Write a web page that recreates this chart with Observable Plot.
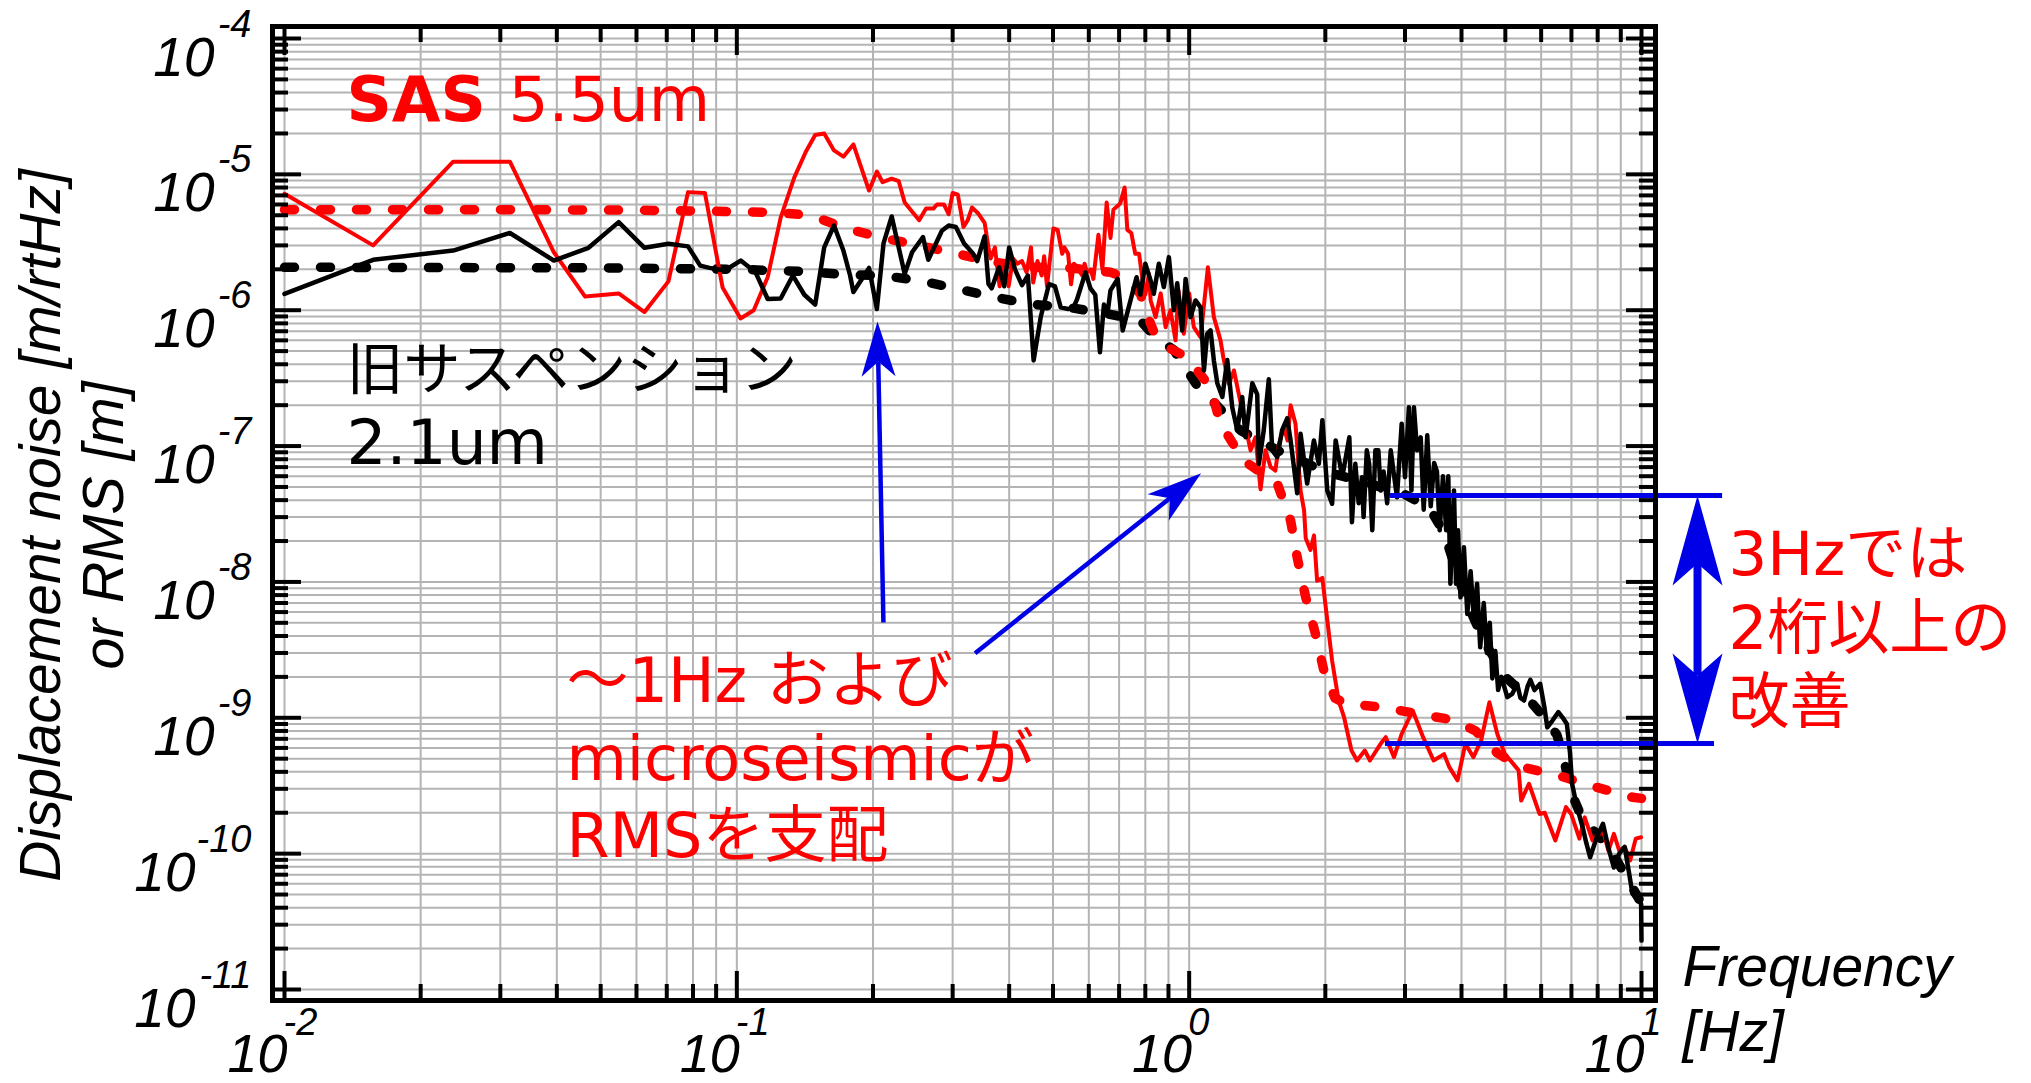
<!DOCTYPE html>
<html>
<head>
<meta charset="utf-8">
<script src="https://cdn.jsdelivr.net/npm/d3@7"></script>
<script src="https://cdn.jsdelivr.net/npm/@observablehq/plot@0.6"></script>
<style>
html, body { margin: 0; padding: 0; background: #fff; }
#chart svg { display: block; overflow: visible; }
</style>
</head>
<body>
<div id="chart"></div>
<script>
// ---------------- data ----------------
// SAS displacement noise ASD [m/rtHz] (red solid)
const sasAsdFreq = [0.0100,0.0157,0.0236,0.0315,0.0394,0.0462,0.0548,0.0625,0.0706,0.0780,0.0850,0.0930,0.1019,0.1090,0.1170,0.1250,0.1340,0.1420,0.1490,0.1560,0.1640,0.1720,0.1810,0.1960,0.2040,0.2100,0.2200,0.2280,0.2350,0.2530,0.2620,0.2720,0.2770,0.2870,0.2940,0.3000,0.3080,0.3170,0.3240,0.3310,0.3410,0.3530,0.3600,0.3640,0.3720,0.3810,0.3900,0.3990,0.4080,0.4170,0.4270,0.4370,0.4470,0.4520,0.4620,0.4720,0.4780,0.4850,0.5010,0.5120,0.5240,0.5300,0.5400,0.5480,0.5560,0.5650,0.5800,0.5870,0.5950,0.6060,0.6140,0.6300,0.6430,0.6570,0.6700,0.6800,0.7040,0.7200,0.7300,0.7450,0.7600,0.7750,0.7890,0.8000,0.8150,0.8220,0.8430,0.8650,0.8870,0.9090,0.9330,0.9470,0.9730,1.000,1.024,1.060,1.100,1.134,1.173,1.190,1.224,1.256,1.288,1.320,1.367,1.402,1.438,1.475,1.514,1.551,1.579,1.619,1.650,1.676,1.718,1.763,1.795,1.810,1.854,1.888,1.918,1.970,2.000,2.070,2.140,2.200,2.285,2.350,2.445,2.510,2.650,2.720,2.837,2.950,3.120,3.290,3.470,3.660,3.760,3.920,4.080,4.250,4.420,4.610,4.800,4.990,5.200,5.350,5.420,5.640,5.950,6.110,6.450,6.810,6.990,7.290,7.490,7.790,8.220,8.450,8.690,8.930,9.180,9.440,9.710,9.980];
const sasAsdAmp = [7.2e-6,3.0e-6,1.24e-5,1.24e-5,2.67e-6,1.26e-6,1.33e-6,9.7e-7,1.63e-6,7.4e-6,7.3e-6,1.47e-6,8.7e-7,1.0e-6,1.75e-6,4.8e-6,9.5e-6,1.46e-5,1.95e-5,2.0e-5,1.5e-5,1.35e-5,1.66e-5,7.6e-6,1.05e-5,8.75e-6,9.3e-6,8.9e-6,6.2e-6,4.6e-6,5.6e-6,5.6e-6,6.0e-6,6.0e-6,5.1e-6,7.3e-6,7.1e-6,4.1e-6,4.6e-6,5.7e-6,5.2e-6,4.4e-6,2.9e-6,2.4e-6,2.9e-6,1.5e-6,2.3e-6,1.5e-6,2.4e-6,2.2e-6,2.3e-6,1.9e-6,2.9e-6,1.6e-6,2.3e-6,1.8e-6,2.5e-6,1.5e-6,4.0e-6,3.9e-6,2.6e-6,2.9e-6,2.6e-6,1.55e-6,2.2e-6,2.1e-6,1.8e-6,2.2e-6,1.9e-6,2.0e-6,1.7e-6,3.6e-6,2.0e-6,6.2e-6,3.4e-6,5.5e-6,6.1e-6,8.0e-6,3.9e-6,3.7e-6,2.6e-6,2.6e-6,1.65e-6,1.3e-6,1.85e-6,1.18e-6,8.9e-7,1.33e-6,7.5e-7,1.0e-6,6.0e-7,1.4e-6,6.7e-7,1.33e-6,7.5e-7,6.3e-7,2.07e-6,8.9e-7,6.0e-7,4.5e-7,2.87e-7,3.6e-7,2.4e-7,1.6e-7,9.3e-8,1.16e-7,4.8e-8,9.3e-8,7.0e-8,6.6e-8,1.03e-7,1.38e-7,1.1e-7,2.0e-7,1.46e-7,4.7e-8,3.36e-8,2.1e-8,1.72e-8,2.2e-8,1.02e-8,1.07e-8,6.9e-9,2.64e-9,1.34e-9,1.01e-9,5.74e-10,4.85e-10,5.74e-10,4.85e-10,6.43e-10,7.2e-10,5.13e-10,7.6e-10,1.13e-9,7.2e-10,4.85e-10,5.4e-10,4.33e-10,3.46e-10,6.43e-10,5.13e-10,6.8e-10,1.3e-9,7.6e-10,5.4e-10,4.6e-10,4.1e-10,2.46e-10,3.27e-10,1.96e-10,2.0e-10,1.25e-10,2.2e-10,1.96e-10,1.29e-10,1.85e-10,1.25e-10,1.48e-10,1.05e-10,1.4e-10,1.05e-10,1.12e-10,8.9e-11,1.29e-10,1.32e-10];

// Old suspension displacement noise ASD (black solid)
const oldAsdFreq = [0.0100,0.0157,0.0236,0.0315,0.0394,0.0470,0.0548,0.0625,0.0706,0.0780,0.0830,0.0870,0.0940,0.1020,0.1100,0.1170,0.1250,0.1330,0.1410,0.1490,0.1560,0.1640,0.1720,0.1780,0.1810,0.1890,0.1960,0.2040,0.2110,0.2200,0.2350,0.2440,0.2580,0.2650,0.2840,0.2940,0.3050,0.3180,0.3330,0.3400,0.3530,0.3600,0.3660,0.3800,0.3900,0.4000,0.4120,0.4270,0.4400,0.4530,0.4700,0.4900,0.5050,0.5200,0.5400,0.5550,0.5650,0.5900,0.6050,0.6200,0.6350,0.6480,0.6600,0.6700,0.6950,0.7130,0.7350,0.7650,0.7800,0.8000,0.8220,0.8350,0.8570,0.8790,0.9020,0.9250,0.9410,0.9650,0.9820,1.007,1.033,1.060,1.078,1.096,1.115,1.134,1.154,1.184,1.214,1.245,1.277,1.310,1.333,1.379,1.414,1.426,1.462,1.500,1.526,1.566,1.605,1.647,1.676,1.733,1.763,1.823,1.887,1.935,1.970,2.020,2.070,2.108,2.180,2.260,2.290,2.330,2.370,2.410,2.430,2.470,2.500,2.540,2.580,2.620,2.650,2.690,2.740,2.790,2.830,2.880,2.950,3.000,3.060,3.100,3.140,3.190,3.250,3.300,3.360,3.420,3.480,3.530,3.580,3.640,3.700,3.740,3.780,3.850,3.890,3.930,3.980,4.050,4.120,4.190,4.260,4.330,4.400,4.480,4.550,4.620,4.680,4.750,4.820,4.900,5.050,5.180,5.310,5.400,5.500,5.600,5.680,5.800,5.970,6.100,6.190,6.350,6.550,6.700,6.840,6.950,7.020,7.200,7.410,7.550,7.700,7.950,8.220,8.450,8.690,8.930,9.180,9.400,9.550,9.800,9.980,10.00];
const oldAsdAmp = [1.32e-6,2.35e-6,2.75e-6,3.7e-6,2.32e-6,2.88e-6,4.45e-6,2.88e-6,3.08e-6,2.95e-6,2.13e-6,2.05e-6,1.96e-6,2.32e-6,1.9e-6,1.21e-6,1.22e-6,1.8e-6,1.3e-6,1.1e-6,2.9e-6,4.2e-6,2.75e-6,1.8e-6,1.36e-6,1.7e-6,2.05e-6,1.02e-6,3.1e-6,4.9e-6,1.85e-6,2.67e-6,3.45e-6,2.35e-6,3.85e-6,4.2e-6,4.1e-6,3.1e-6,2.6e-6,2.3e-6,3.5e-6,1.56e-6,1.45e-6,2.07e-6,1.5e-6,2.9e-6,2.0e-6,1.53e-6,1.8e-6,4.27e-7,9.0e-7,1.56e-6,1.5e-6,1.05e-6,1.02e-6,1.05e-6,1.2e-6,1.9e-6,1.45e-6,1.3e-6,4.9e-7,1.1e-6,9.5e-7,1.4e-6,1.7e-6,7.1e-7,1.05e-6,1.75e-6,1.3e-6,2.2e-6,1.65e-6,1.32e-6,2.2e-6,1.48e-6,2.46e-6,1.0e-6,1.58e-6,7.1e-7,1.7e-6,8.9e-7,1.18e-6,1.05e-6,3.6e-7,6.7e-7,7.1e-7,4.26e-7,2.9e-7,2.3e-7,4.3e-7,1.93e-7,1.31e-7,2.3e-7,1.16e-7,2.9e-7,2.4e-7,7.4e-8,1.31e-7,3.1e-7,9.3e-8,8.3e-8,1.31e-7,1.6e-7,1.1e-7,4.5e-8,1.23e-7,5.3e-8,1.1e-7,7.4e-8,1.55e-7,4.7e-8,3.76e-8,1.1e-7,5.9e-8,1.16e-7,2.75e-8,7.4e-8,3.8e-8,5.9e-8,3.0e-8,9.3e-8,7.4e-8,2.4e-8,9.3e-8,9.3e-8,4.7e-8,6.5e-8,3.8e-8,9.3e-8,6.5e-8,4.2e-8,1.46e-7,5.9e-8,1.93e-7,4.7e-8,1.93e-7,9.3e-8,1.16e-7,3.4e-8,1.2e-7,3.6e-8,7.5e-8,6.5e-8,2.4e-8,6.0e-8,2.4e-8,6.0e-8,9.7e-9,4.7e-8,9.7e-9,2.4e-8,7.7e-9,1.8e-8,5.8e-9,1.2e-8,5.3e-9,9.7e-9,3.3e-9,7.0e-9,3.0e-9,5.0e-9,1.95e-9,3.1e-9,1.6e-9,2.0e-9,1.42e-9,1.5e-9,1.78e-9,1.4e-9,1.34e-9,1.7e-9,1.9e-9,1.6e-9,1.78e-9,1.2e-9,8.5e-10,9.5e-10,1.1e-9,1.0e-9,9.0e-10,5.5e-10,3.3e-10,2.2e-10,1.57e-10,1.2e-10,9.4e-11,1.3e-10,1.66e-10,1.1e-10,7.9e-11,1.0e-10,1.12e-10,7.0e-11,5.06e-11,4.6e-11,4.27e-11,2.29e-11];

// SAS RMS displacement [m] (red dashed)
const sasRmsFreq = [0.0100,0.0300,0.0600,0.0900,0.1200,0.1460,0.1740,0.2110,0.2590,0.3070,0.3700,0.4450,0.5500,0.6700,0.7200,0.7800,0.8100,0.8400,0.9000,0.9900,1.1150,1.1730,1.3200,1.5660,1.6760,1.7330,1.8100,1.9000,1.9850,2.1000,2.2200,2.6500,3.2000,3.8600,4.3000,4.8000,5.3500,6.5500,7.9000,9.5500,10.000];
const sasRmsAmp = [5.5e-6,5.5e-6,5.45e-6,5.35e-6,5.25e-6,5.0e-6,4.0e-6,3.4e-6,2.95e-6,2.6e-6,2.26e-6,2.07e-6,2.04e-6,1.9e-6,1.75e-6,1.32e-6,9.0e-7,6.6e-7,5.3e-7,4.5e-7,2.7e-7,1.46e-7,7.8e-8,5.3e-8,2.83e-8,1.52e-8,7.7e-9,4.2e-9,2.23e-9,1.4e-9,1.27e-9,1.2e-9,1.07e-9,9.6e-10,8.0e-10,5.5e-10,4.4e-10,3.76e-10,3.1e-10,2.6e-10,2.55e-10];

// Old suspension RMS displacement [m] (black dashed)
const oldRmsFreq = [0.0100,0.0500,0.1000,0.1450,0.1760,0.2100,0.2540,0.3070,0.3700,0.4450,0.5500,0.6600,0.7800,0.8440,0.9250,1.0400,1.1900,1.3000,1.6000,2.0000,2.5000,3.0000,3.4000,3.6600,3.9000,4.1200,4.5000,5.0000,5.5000,6.1000,6.5000,6.7000,7.0000,7.4000,7.8000,8.5000,9.2000,10.000];
const oldRmsAmp = [2.07e-6,2.05e-6,2.0e-6,1.92e-6,1.82e-6,1.8e-6,1.65e-6,1.44e-6,1.25e-6,1.11e-6,1.04e-6,9.4e-7,8.4e-7,6.3e-7,5.1e-7,2.8e-7,1.78e-7,1.3e-7,9.0e-8,6.5e-8,5.3e-8,4.4e-8,3.5e-8,2.3e-8,1.2e-8,6.9e-9,3.6e-9,2.0e-9,1.5e-9,1.0e-9,7.5e-10,5.3e-10,2.8e-10,1.8e-10,1.5e-10,1.1e-10,7.0e-11,4.3e-11];

// axis ticks
const xMajorTicks = [0.01, 0.1, 1, 10];
const xMajorExponents = ["-2", "-1", "0", "1"];
const yMajorTicks = [1e-4, 1e-5, 1e-6, 1e-7, 1e-8, 1e-9, 1e-10, 1e-11];
const yMajorExponents = ["-4", "-5", "-6", "-7", "-8", "-9", "-10", "-11"];
const minorMultipliers = [2, 3, 4, 5, 6, 7, 8, 9];
const xDecades = [0.01, 0.1, 1];
const yDecades = [1e-11, 1e-10, 1e-9, 1e-8, 1e-7, 1e-6, 1e-5];

// annotations (data coordinates)
const singleArrows = [
  {x1: 0.2109, y1: 5.03e-9, x2: 0.2046, y2: 8.26e-7},
  {x1: 0.3363, y1: 2.99e-9, x2: 1.063, y2: 6.31e-8}
];
const bracketLines = [
  {x1: 2.787, x2: 15.11, y: 4.33e-8},
  {x1: 2.716, x2: 14.50, y: 6.47e-10}
];
const doubleArrow = {x: 13.30, yTop: 4.33e-8, yBottom: 6.47e-10};

const sasLabelBold = [{text: "SAS", x: 0.01371, y: 2.491e-5}];
const sasLabelValue = [{text: "5.5um", x: 0.03128, y: 2.491e-5}];
const oldLabelName = [{text: "旧サスペンション", x: 0.01371, y: 2.653e-7}];
const oldLabelValue = [{text: "2.1um", x: 0.01371, y: 7.44e-8}];
const noteRms = [{text: "〜1Hz および\nmicroseismicが\nRMSを支配", x: 0.04201, y: 9.368e-11}];
const noteImprove = [{text: "3Hzでは\n2桁以上の\n改善", x: 15.57, y: 9.232e-10}];
const xTitle = [{text: "Frequency\n[Hz]"}];
const yTitle = [{text: "Displacement noise [m/rtHz]\nor RMS [m]"}];

// ---------------- chart ----------------
const RED = "#ff0000", BLUE = "#0000e6", GRID = "#b4b4b4";
const SANS = "'DejaVu Sans', 'Noto Sans CJK JP', sans-serif";
const ARIAL = "'Liberation Sans', Arial, sans-serif";

const W = 2031, H = 1083;
const ML = 272, MR = 376, MT = 26, MB = 83;
const FW = W - ML - MR, FH = H - MT - MB;

const xOpts = {type: "log", domain: [0.01, 10], range: [284, 1641]};
const yOpts = {type: "log", domain: [1e-11, 1e-4], range: [989, 38]};
const sx = Plot.scale({x: xOpts});
const sy = Plot.scale({y: yOpts});

const rows = (fs, vs) => fs.map((f, i) => ({f, v: vs[i]}));
const sasAsd = rows(sasAsdFreq, sasAsdAmp);
const oldAsd = rows(oldAsdFreq, oldAsdAmp);
const sasRms = rows(sasRmsFreq, sasRmsAmp);
const oldRms = rows(oldRmsFreq, oldRmsAmp);

const xMinorTicks = xDecades.flatMap(d => minorMultipliers.map(m => m * d));
const yMinorTicks = yDecades.flatMap(d => minorMultipliers.map(m => m * d));
const xAll = xMajorTicks.concat(xMinorTicks);
const yAll = yMajorTicks.concat(yMinorTicks);

// arrow heads (tip at origin, pointing up)
const headShape = (len, half, notch) => ({
  draw(ctx) {
    ctx.moveTo(0, 0);
    ctx.lineTo(half, len);
    ctx.lineTo(0, len - notch);
    ctx.lineTo(-half, len);
    ctx.closePath();
  }
});
const SMALL = {len: 55, half: 17, notch: 15};
const BIG = {len: 90, half: 25, notch: 22};

const smallHeads = [], shafts = [];
for (const a of singleArrows) {
  const p1 = [sx.apply(a.x1), sy.apply(a.y1)], p2 = [sx.apply(a.x2), sy.apply(a.y2)];
  const dx = p2[0] - p1[0], dy = p2[1] - p1[1], L = Math.hypot(dx, dy);
  const ux = dx / L, uy = dy / L;
  const back = SMALL.len - SMALL.notch;
  smallHeads.push({x: a.x2, y: a.y2, angle: Math.atan2(ux, -uy) * 180 / Math.PI});
  shafts.push({x1: a.x1, y1: a.y1, x2: sx.invert(p2[0] - ux * back), y2: sy.invert(p2[1] - uy * back)});
}
const bigHeads = [
  {x: doubleArrow.x, y: doubleArrow.yTop, angle: 0},
  {x: doubleArrow.x, y: doubleArrow.yBottom, angle: 180}
];
const dTop = sy.apply(doubleArrow.yTop) + (BIG.len - BIG.notch);
const dBot = sy.apply(doubleArrow.yBottom) - (BIG.len - BIG.notch);
const doubleShaft = [{x: doubleArrow.x, y1: sy.invert(dTop), y2: sy.invert(dBot)}];

const yLabelRows = yMajorTicks.map((v, i) => ({v, exp: yMajorExponents[i]}));
const xLabelRows = xMajorTicks.map((f, i) => ({f, exp: xMajorExponents[i]}));

const chart = Plot.plot({
  width: W, height: H,
  marginLeft: ML, marginRight: MR, marginTop: MT, marginBottom: MB,
  x: {...xOpts, axis: null},
  y: {...yOpts, axis: null},
  style: {background: "white", overflow: "visible"},
  marks: [
    // grid
    Plot.ruleX(xAll, {x: d => d, stroke: GRID, strokeWidth: 2}),
    Plot.ruleY(yAll, {y: d => d, stroke: GRID, strokeWidth: 2}),
    // RMS (dashed)
    Plot.line(oldRms, {x: "f", y: "v", stroke: "black", strokeWidth: 9.5, strokeDasharray: "10,26", strokeLinecap: "round", strokeLinejoin: "round"}),
    Plot.line(sasRms, {x: "f", y: "v", stroke: RED, strokeWidth: 9.5, strokeDasharray: "10,26", strokeLinecap: "round", strokeLinejoin: "round"}),
    // ASD (solid)
    Plot.line(sasAsd, {x: "f", y: "v", stroke: RED, strokeWidth: 4, strokeLinejoin: "round"}),
    Plot.line(oldAsd, {x: "f", y: "v", stroke: "black", strokeWidth: 4.5, strokeLinejoin: "round"}),
    // annotations: bracket and arrows
    Plot.ruleY(bracketLines, {y: "y", x1: "x1", x2: "x2", stroke: BLUE, strokeWidth: 5}),
    Plot.ruleX(doubleShaft, {x: "x", y1: "y1", y2: "y2", stroke: BLUE, strokeWidth: 8}),
    Plot.dot(bigHeads, {x: "x", y: "y", r: 1, symbol: headShape(BIG.len, BIG.half, BIG.notch), fill: BLUE, stroke: "none", rotate: "angle"}),
    Plot.link(shafts, {x1: "x1", y1: "y1", x2: "x2", y2: "y2", stroke: BLUE, strokeWidth: 4.5}),
    Plot.dot(smallHeads, {x: "x", y: "y", r: 1, symbol: headShape(SMALL.len, SMALL.half, SMALL.notch), fill: BLUE, stroke: "none", rotate: "angle"}),
    // in-plot texts
    Plot.text(sasLabelBold, {x: "x", y: "y", text: "text", textAnchor: "start", lineAnchor: "bottom", fill: RED, fontSize: 63, fontWeight: "bold", fontFamily: SANS}),
    Plot.text(sasLabelValue, {x: "x", y: "y", text: "text", textAnchor: "start", lineAnchor: "bottom", fill: RED, fontSize: 63, fontFamily: SANS}),
    Plot.text(oldLabelName, {x: "x", y: "y", text: "text", textAnchor: "start", lineAnchor: "bottom", fill: "black", fontSize: 57, fontFamily: SANS}),
    Plot.text(oldLabelValue, {x: "x", y: "y", text: "text", textAnchor: "start", lineAnchor: "bottom", fill: "black", fontSize: 63, fontFamily: SANS}),
    Plot.text(noteRms, {x: "x", y: "y", text: "text", textAnchor: "start", lineAnchor: "bottom", lineHeight: 1.25, fill: RED, fontSize: 62, fontFamily: SANS}),
    Plot.text(noteImprove, {x: "x", y: "y", text: "text", textAnchor: "start", lineAnchor: "bottom", lineHeight: 1.213, fill: RED, fontSize: 61, fontFamily: SANS}),
    // ticks (inward)
    Plot.tickY(yMajorTicks, {y: d => d, stroke: "black", strokeWidth: 4, insetRight: FW - 29}),
    Plot.tickY(yMinorTicks, {y: d => d, stroke: "black", strokeWidth: 4, insetRight: FW - 16}),
    Plot.tickY(yMajorTicks, {y: d => d, stroke: "black", strokeWidth: 4, insetLeft: FW - 29}),
    Plot.tickY(yMinorTicks, {y: d => d, stroke: "black", strokeWidth: 4, insetLeft: FW - 16}),
    Plot.tickX(xMajorTicks, {x: d => d, stroke: "black", strokeWidth: 4, insetTop: FH - 29}),
    Plot.tickX(xMinorTicks, {x: d => d, stroke: "black", strokeWidth: 4, insetTop: FH - 16}),
    Plot.tickX(xMajorTicks, {x: d => d, stroke: "black", strokeWidth: 4, insetBottom: FH - 29}),
    Plot.tickX(xMinorTicks, {x: d => d, stroke: "black", strokeWidth: 4, insetBottom: FH - 16}),
    Plot.frame({stroke: "black", strokeWidth: 5}),
    // tick labels
    Plot.text(xLabelRows, {x: "f", frameAnchor: "bottom", text: () => "10", textAnchor: "end", lineAnchor: "bottom", dx: 3, dy: 71, fill: "black", fontSize: 54, fontStyle: "italic", fontFamily: ARIAL}),
    Plot.text(xLabelRows, {x: "f", frameAnchor: "bottom", text: "exp", textAnchor: "start", lineAnchor: "bottom", dx: -1, dy: 34, fill: "black", fontSize: 38, fontStyle: "italic", fontFamily: ARIAL}),
    Plot.text(yLabelRows, {y: "v", frameAnchor: "left", text: "exp", textAnchor: "end", lineAnchor: "bottom", dx: -21, dy: -2, fill: "black", fontSize: 38, fontStyle: "italic", fontFamily: ARIAL}),
    Plot.text(yLabelRows, {y: "v", filter: d => d.exp.length === 2, frameAnchor: "left", text: () => "10", textAnchor: "end", lineAnchor: "bottom", dx: -58, dy: 37, fill: "black", fontSize: 55, fontStyle: "italic", fontFamily: ARIAL}),
    Plot.text(yLabelRows, {y: "v", filter: d => d.exp.length === 3, frameAnchor: "left", text: () => "10", textAnchor: "end", lineAnchor: "bottom", dx: -77, dy: 37, fill: "black", fontSize: 55, fontStyle: "italic", fontFamily: ARIAL}),
    // axis titles
    Plot.text(xTitle, {frameAnchor: "top-left", text: "text", dx: 1682 - ML, dy: 1050 - MT, textAnchor: "start", lineAnchor: "bottom", lineHeight: 65 / 57, fill: "black", fontSize: 57, fontStyle: "italic", fontFamily: ARIAL}),
    Plot.text(yTitle, {frameAnchor: "top-left", text: "text", dx: 122 - ML, dy: 525 - MT, rotate: -90, textAnchor: "middle", lineAnchor: "bottom", lineHeight: 63 / 57, fill: "black", fontSize: 57, fontStyle: "italic", fontFamily: ARIAL})
  ]
});
document.getElementById("chart").appendChild(chart);
</script>
</body>
</html>
